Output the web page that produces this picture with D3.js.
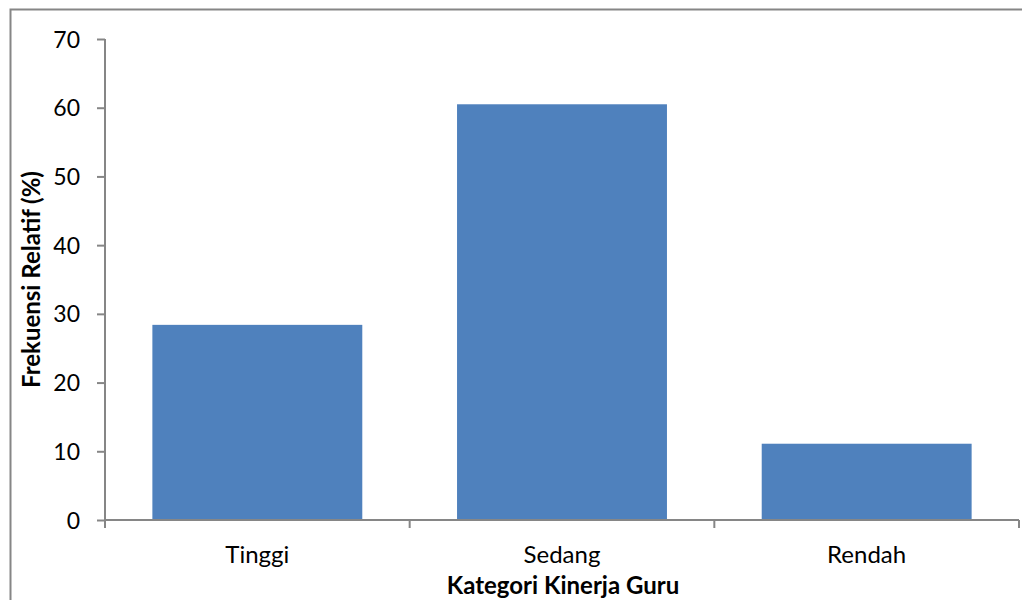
<!DOCTYPE html>
<html>
<head>
<meta charset="utf-8">
<script src="https://cdn.jsdelivr.net/npm/d3@7"></script>
<style>
  body { margin: 0; background: #fff; }
  svg { display: block; font-family: Lato, "Open Sans", sans-serif; }
</style>
</head>
<body>
<svg id="chart" width="1022" height="600"></svg>
<script>
let categories = ['Tinggi', 'Sedang', 'Rendah'];
let values = [28.4, 60.5, 11.1];
let yTicks = [0, 10, 20, 30, 40, 50, 60, 70];
let xTitle = 'Kategori Kinerja Guru';
let yTitle = 'Frekuensi Relatif (%)';

let svg = d3.select('#chart');
let margin = {left: 105, top: 39, right: 3, bottom: 80};
let innerWidth = 1022 - margin.left - margin.right;
let innerHeight = 600 - margin.top - margin.bottom;
let axisColor = '#868686';

// outer chart border
svg.append('rect')
    .attr('x', 10.5).attr('y', 9.5)
    .attr('width', 1030).attr('height', 620)
    .attr('fill', 'none')
    .attr('stroke', axisColor)
    .attr('stroke-width', 2);

let x = d3.scaleBand()
    .domain(categories)
    .range([0, innerWidth])
    .paddingInner(0.311)
    .paddingOuter(0.1555);

let y = d3.scaleLinear()
    .domain([0, 70])
    .range([innerHeight, 0]);

let g = svg.append('g')
    .attr('transform', `translate(${margin.left},${margin.top})`);

g.selectAll('rect.bar')
    .data(values)
    .enter()
    .append('rect')
    .attr('class', 'bar')
    .attr('x', (d, i) => x(categories[i]))
    .attr('y', d => y(d))
    .attr('width', x.bandwidth())
    .attr('height', d => innerHeight - y(d))
    .attr('fill', '#4F81BD');

// y axis
let yAxis = g.append('g')
    .call(d3.axisLeft(y).tickValues(yTicks).tickSize(8).tickPadding(17))
    .style('font-size', '23px')
    .style('font-family', 'Lato, "Open Sans", sans-serif');
yAxis.select('.domain').attr('stroke', axisColor).attr('stroke-width', 2)
    .attr('d', `M0,0V${innerHeight}`);
yAxis.selectAll('.tick line').attr('stroke', axisColor).attr('stroke-width', 2);
yAxis.selectAll('.tick text').attr('fill', '#000').attr('dy', '0.35em');

// x axis, ticks between categories
let bounds = d3.range(categories.length + 1).map(i => i * innerWidth / categories.length);
let xAxis = g.append('g').attr('transform', `translate(0,${innerHeight})`);
xAxis.append('line')
    .attr('x1', 0).attr('x2', innerWidth)
    .attr('stroke', axisColor).attr('stroke-width', 2);
xAxis.selectAll('line.tk')
    .data(bounds)
    .enter()
    .append('line')
    .attr('class', 'tk')
    .attr('x1', d => d).attr('x2', d => d)
    .attr('y1', 0).attr('y2', 8)
    .attr('stroke', axisColor).attr('stroke-width', 2);
xAxis.selectAll('text')
    .data(categories)
    .enter()
    .append('text')
    .attr('x', d => x(d) + x.bandwidth() / 2)
    .attr('y', 43)
    .attr('text-anchor', 'middle')
    .style('font-size', '24px')
    .text(d => d);

// titles
svg.append('text')
    .attr('x', margin.left + innerWidth / 2 + 1)
    .attr('y', 594)
    .attr('text-anchor', 'middle')
    .style('font-size', '24px')
    .style('font-weight', 'bold')
    .text(xTitle);

svg.append('text')
    .attr('transform', `translate(40,${margin.top + innerHeight / 2}) rotate(-90)`)
    .attr('text-anchor', 'middle')
    .style('font-size', '24px')
    .style('font-weight', 'bold')
    .text(yTitle);
</script>
</body>
</html>
